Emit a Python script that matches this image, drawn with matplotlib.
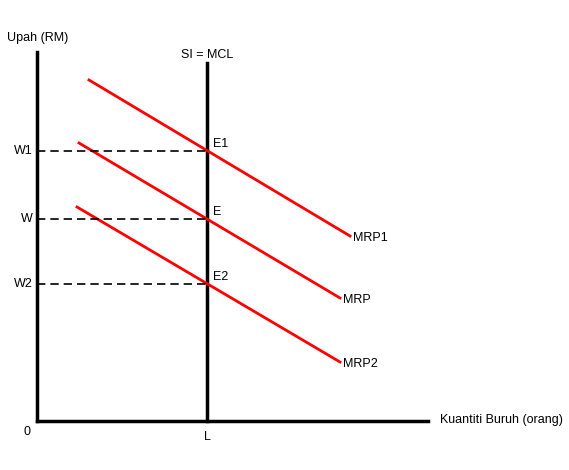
import matplotlib
matplotlib.use("Agg")
import matplotlib.pyplot as plt

plt.rcParams['font.family'] = ['Liberation Sans', 'DejaVu Sans']

# Schematic values (units: quantity, wage)
wage_levels = [270, 202, 137]          # W1, W, W2
wage_labels = ["W1", "W", "W2"]
L_qty = 170
curve_names = ["MRP1", "MRP", "MRP2"]
curve_x = [[52, 313], [42, 303], [40, 303]]
curve_y = [[341, 185], [278, 123], [214, 59]]
point_labels = ["E1", "E", "E2"]

fig = plt.figure(figsize=(5.69, 4.70), dpi=100)
ax = fig.add_axes([0, 0, 1, 1])
ax.set_xlim(-37, 532)
ax.set_ylim(-49, 421)
ax.axis('off')

fs = 9
# axes
ax.plot([0, 0], [0, 369], color='black', lw=2.5)
ax.plot([0, 391], [0, 0], color='black', lw=2.5)
# vertical supply line
ax.plot([L_qty, L_qty], [0, 358], color='black', lw=2.5)

for cx, cy, name in zip(curve_x, curve_y, curve_names):
    ax.plot(cx, cy, color='red', lw=2)
    ax.text(cx[1] + 3, cy[1] - 2, name, fontsize=fs, va='center', ha='left')

for w, lab, pl in zip(wage_levels, wage_labels, point_labels):
    ax.plot([0, L_qty], [w, w], color='black', lw=1.2, ls=(0, (5, 3)))
    ax.text(-4, w, lab, fontsize=fs, ha='right', va='center')
    ax.text(L_qty + 6, w + 7, pl, fontsize=fs, ha='left', va='center')

ax.text(-30, 383, "Upah (RM)", fontsize=fs, ha='left', va='center')
ax.text(L_qty, 366, "SI = MCL", fontsize=fs, ha='center', va='center')
ax.text(403, 1, "Kuantiti Buruh (orang)", fontsize=fs, ha='left', va='center')
ax.text(-10, -11, "0", fontsize=fs, ha='center', va='center')
ax.text(L_qty, -16, "L", fontsize=fs, ha='center', va='center')

fig.savefig("out.png", dpi=100)
